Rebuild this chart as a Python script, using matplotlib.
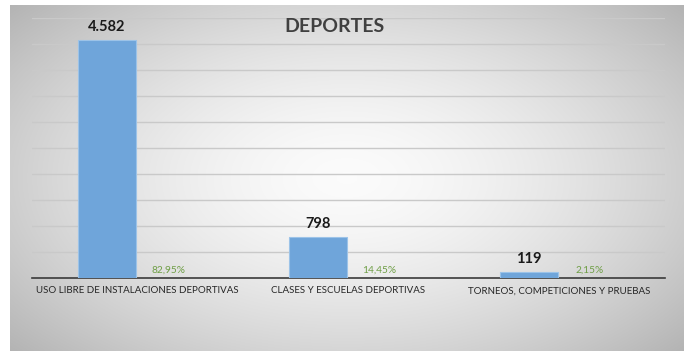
import numpy as np
import matplotlib
matplotlib.use("Agg")
import matplotlib.pyplot as plt

plt.rcParams['font.family'] = ['Lato', 'DejaVu Sans']

categories = ["USO LIBRE DE INSTALACIONES DEPORTIVAS",
              "CLASES Y ESCUELAS DEPORTIVAS",
              "TORNEOS, COMPETICIONES Y PRUEBAS"]
values = [4582, 798, 119]
value_labels = ["4.582", "798", "119"]
shares = [0.8295, 0.1445, 0.0215]
share_labels = ["82,95%", "14,45%", "2,15%"]
title = "DEPORTES"

W, H = 684, 351
fig = plt.figure(figsize=(W / 100, H / 100), dpi=100)
fig.patch.set_facecolor("white")

# gradient background panel
bg = fig.add_axes([10 / W, 0, 1 - 10 / W, 1 - 5 / H])
yy, xx = np.mgrid[-1:1:200j, -1:1:400j]
r = np.sqrt((xx * 0.95) ** 2 + (yy * 0.85) ** 2)
g = 0.985 - 0.19 * np.clip(r, 0, 1.3) ** 1.6
img = np.dstack([g, g, g])
bg.imshow(img, aspect="auto", extent=[0, 1, 0, 1], interpolation="bilinear")
bg.set_axis_off()

ax = fig.add_axes([32 / W, (H - 278) / H, 633 / W, 260 / H])
ax.set_facecolor("none")
x = np.arange(len(categories))
w = 0.275
off = 0.145
bars = ax.bar(x - off, values, width=w, color="#6FA5DA", edgecolor="#9CC3E8",
              linewidth=0.8, zorder=3)
pbars = ax.bar(x + off, shares, width=w, color="none", zorder=3)

for b, lab in zip(bars, value_labels):
    ax.annotate(lab, (b.get_x() + b.get_width() / 2, b.get_height()),
                xytext=(0, 4), textcoords="offset points", ha="center", va="bottom",
                fontsize=10.5, fontweight="bold", color="#1a1a1a")
for b, lab in zip(pbars, share_labels):
    ax.annotate(lab, (b.get_x() + b.get_width() / 2, b.get_height()),
                xytext=(0, 2.5), textcoords="offset points", ha="center", va="bottom",
                fontsize=7.3, color="#6E9E45")

ax.set_xlim(-0.5, 2.5)
ax.set_ylim(0, 5000)
ax.set_yticks(np.arange(500, 5001, 500))
ax.yaxis.grid(True, color="#c9c9c9", linewidth=1.0, zorder=0)
ax.tick_params(axis="y", length=0, labelleft=False)
ax.set_xticks(x)
ax.set_xticklabels(categories, fontsize=7, color="#262626")
ax.tick_params(axis="x", length=0, pad=6)
for s in ["top", "right", "left"]:
    ax.spines[s].set_visible(False)
ax.spines["bottom"].set_color("#3a3a3a")
ax.spines["bottom"].set_linewidth(1.2)

fig.text(335 / W, 1 - 26 / H, title, ha="center", va="center",
         fontsize=14, fontweight="bold", color="#404040")

fig.savefig("out.png", dpi=100)
